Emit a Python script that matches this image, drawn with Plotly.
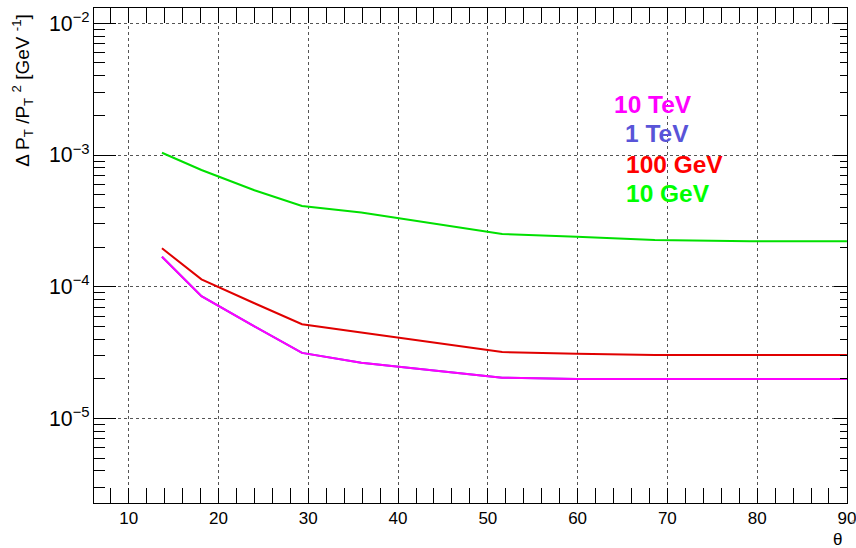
import plotly.graph_objects as go

# polar angle theta (degrees)
theta = [13.7, 18.1, 24.0, 29.3, 35.9, 51.6, 59.9, 68.6, 79.2, 90.0]

res_10GeV = [1.04e-3, 7.7e-4, 5.4e-4, 4.1e-4, 3.67e-4, 2.52e-4, 2.4e-4, 2.27e-4, 2.22e-4, 2.22e-4]
res_100GeV = [1.96e-4, 1.14e-4, 7.5e-5, 5.2e-5, 4.5e-5, 3.2e-5, 3.1e-5, 3.03e-5, 3.03e-5, 3.03e-5]
res_1TeV = [1.69e-4, 8.5e-5, 5.0e-5, 3.15e-5, 2.65e-5, 2.04e-5, 2.0e-5, 2.0e-5, 2.0e-5, 2.0e-5]
res_10TeV = [1.69e-4, 8.5e-5, 5.0e-5, 3.15e-5, 2.65e-5, 2.04e-5, 2.0e-5, 2.0e-5, 2.0e-5, 2.0e-5]

labels = ["10 TeV", "1 TeV", "100 GeV", "10 GeV"]
label_colors = ["#ff00ff", "#5954d8", "#ff0000", "#00ff00"]

FONT = "Liberation Sans, Arial, Helvetica, sans-serif"

fig = go.Figure()
series = [
    ("1 TeV", res_1TeV, "#5954d8"),
    ("10 GeV", res_10GeV, "#00e000"),
    ("100 GeV", res_100GeV, "#e00000"),
    ("10 TeV", res_10TeV, "#ff00ff"),
]
for name, ys, col in series:
    fig.add_trace(go.Scatter(x=theta, y=ys, mode="lines", name=name,
                             line=dict(color=col, width=2), showlegend=False))

# invisible trace to anchor the right-hand y axis
fig.add_trace(go.Scatter(x=[theta[0]], y=[res_10GeV[0]], mode="markers",
                         marker=dict(opacity=0), yaxis="y2", showlegend=False,
                         hoverinfo="skip"))

yr = [-5.641, -1.884]
fig.update_layout(
    width=856, height=548,
    margin=dict(l=94, r=9, t=8, b=45),
    paper_bgcolor="white", plot_bgcolor="white",
    font=dict(family=FONT, size=16, color="black"),
    xaxis=dict(
        range=[6.13, 90.01], showline=True, linecolor="black", linewidth=1,
        mirror="allticks", ticks="inside", ticklen=15, tickcolor="black",
        tick0=0, dtick=10, showgrid=True, gridcolor="#555", griddash="dot",
        gridwidth=1, zeroline=False, tickfont=dict(size=17),
        ticklabeloverflow="allow", automargin=False,
        minor=dict(ticks="inside", ticklen=8, dtick=2, tick0=0,
                   tickcolor="black", showgrid=False),
    ),
    yaxis=dict(
        type="log", range=yr, showline=True, linecolor="black", linewidth=1,
        ticks="inside", ticklen=22, tickcolor="black",
        tickmode="linear", tick0=0, dtick=1, exponentformat="power",
        showexponent="all", automargin=False, ticklabeloverflow="allow",
        showgrid=True, gridcolor="#555", griddash="dot", gridwidth=1,
        zeroline=False, tickfont=dict(size=17),
        minor=dict(ticks="inside", ticklen=11, dtick="D1",
                   tickcolor="black", showgrid=False),
    ),
    yaxis2=dict(
        type="log", range=yr, overlaying="y", side="right",
        showline=True, linecolor="black", linewidth=1,
        ticks="inside", ticklen=13, tickcolor="black",
        tickmode="linear", tick0=0, dtick=1, showticklabels=False,
        showgrid=False, zeroline=False, automargin=False,
        minor=dict(ticks="inside", ticklen=7, dtick="D1",
                   tickcolor="black", showgrid=False),
    ),
)

x0, x1, y0, y1 = 94.3, 846.7, 8.3, 502.7


def px2paper(px, py):
    return (px - x0) / (x1 - x0), (y1 - py) / (y1 - y0)


# y axis title (ROOT style, right aligned at top)
tx, ty = px2paper(23, 12)
fig.add_annotation(
    xref="paper", yref="paper", x=tx, y=ty, xanchor="center", yanchor="top",
    text="Δ P<sub>T</sub> /P<sub>T</sub> <sup>2</sup> [GeV <sup>-1</sup>]",
    textangle=-90, showarrow=False, font=dict(size=19, family=FONT),
)
# x axis title
tx, ty = px2paper(837, 539)
fig.add_annotation(xref="paper", yref="paper", x=tx, y=ty,
                   xanchor="center", yanchor="middle", text="θ",
                   showarrow=False, font=dict(size=17, family=FONT))
tx, ty = px2paper(853, 524)
fig.add_annotation(xref="paper", yref="paper", x=tx, y=ty,
                   xanchor="center", yanchor="middle", text="°",
                   showarrow=False, font=dict(size=11, family=FONT, color="#888"))

# energy labels
lab_x = [653, 657, 674, 668]
lab_y = [105, 134, 165, 194]
for t, c, px, py in zip(labels, label_colors, lab_x, lab_y):
    ax_, ay_ = px2paper(px, py)
    fig.add_annotation(
        xref="paper", yref="paper", x=ax_, y=ay_,
        xanchor="center", yanchor="middle", text=f"<b>{t}</b>",
        showarrow=False, font=dict(size=24.5, color=c, family=FONT),
    )

fig.write_html("out.html", config={"displayModeBar": False},
               post_script="document.body.style.margin='0';document.body.style.padding='0';")
